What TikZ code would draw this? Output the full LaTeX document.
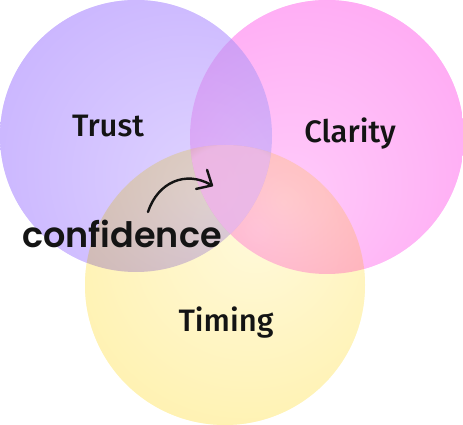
\documentclass[tikz,border=0pt]{standalone}
\usepackage{fontspec}
\setmainfont{Fira Sans}
\newfontfamily\labelfont{Fira Sans Medium}
\newfontfamily\handfont{Poppins SemiBold}
\usetikzlibrary{arrows.meta,positioning,fadings}
\definecolor{vnInk}{HTML}{141414}
\definecolor{vnTrustIn}{HTML}{DFD4FF}
\definecolor{vnTrustOut}{HTML}{C2A9FF}
\definecolor{vnClarityIn}{HTML}{FFCCFA}
\definecolor{vnClarityOut}{HTML}{FF9CF1}
\definecolor{vnTimingIn}{HTML}{FFF9DA}
\definecolor{vnTimingOut}{HTML}{FFEE9C}
\definecolor{vnCore}{HTML}{F0BAEC}
\pgfdeclareradialshading{vn trust shade}{\pgfpoint{14bp}{-10bp}}%
  {color(0bp)=(vnTrustIn); color(50bp)=(vnTrustOut); color(70bp)=(vnTrustOut)}
\pgfdeclareradialshading{vn clarity shade}{\pgfpoint{-8bp}{-12bp}}%
  {color(0bp)=(vnClarityIn); color(50bp)=(vnClarityOut); color(70bp)=(vnClarityOut)}
\pgfdeclareradialshading{vn timing shade}{\pgfpoint{6bp}{10bp}}%
  {color(0bp)=(vnTimingIn); color(50bp)=(vnTimingOut); color(70bp)=(vnTimingOut)}
% the three discs, drawn twice: once multiplied, once darkened
\newcommand\vnDiscs{%
  \shade[shading=vn trust shade] (136,289) circle[radius=136];
  \shade[shading=vn clarity shade] (327,288) circle[radius=137];
  \shade[shading=vn timing shade] (225,140) circle[radius=140];
}
\tikzset{
  vn label/.style={font=\labelfont\fontsize{31}{36}\selectfont, text=vnInk, anchor=base},
  vn hand/.style={font=\handfont\fontsize{35}{40}\selectfont, text=vnInk, anchor=base},
  vn glow/.style={fill=vnCore, path fading=circle with fuzzy edge 20 percent, opacity=.8},
  vn arrow/.style={
    draw=vnInk,
    line width=2.4pt,
    line cap=round,
    -{Straight Barb[length=12pt,width=22pt,round]}
  }
}
\begin{document}
\begin{tikzpicture}[x=1pt,y=1pt]
  \useasboundingbox (0,0) rectangle (463,425);
  \begin{scope}[blend group=multiply]
    \vnDiscs
  \end{scope}
  \begin{scope}[transparency group, opacity=.6]
    \begin{scope}[blend group=darken]
      \vnDiscs
    \end{scope}
  \end{scope}
  % soft pink core where all three meet
  \begin{scope}
    \clip (136,289) circle[radius=136];
    \clip (327,288) circle[radius=137];
    \clip (225,140) circle[radius=140];
    \path[vn glow] (232,220) circle[radius=75];
  \end{scope}

  \node[vn label] (trust) at (108,288) {Trust};
  \node[vn label] (clarity) at (350,282) {Clarity};
  \node[vn label] (timing) at (226,93) {Timing};

  \node[vn hand] (confidence) at (122,177) {confidence};
  \coordinate (foot) at (148,213);
  \coordinate (core) at (213,239);
  \draw[vn arrow] (foot) to[out=72,in=150,looseness=1.15] (core);
\end{tikzpicture}
\end{document}
